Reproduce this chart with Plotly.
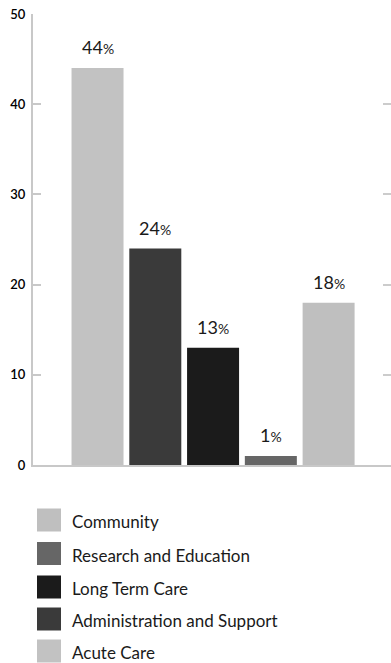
import plotly.graph_objects as go

categories = ["Acute Care", "Administration and Support", "Long Term Care",
              "Research and Education", "Community"]
values = [44, 24, 13, 1, 18]
colors = ["#c2c2c2", "#3a3a3a", "#1b1b1b", "#666666", "#bfbfbf"]
y_ticks = [0, 10, 20, 30, 40, 50]

W, H = 391, 663
ML, MR, MT, MB = 33, 0, 14, 198
PW, PH = W - ML - MR, H - MT - MB

def px_x(p):
    return (p - ML) / PW

def px_y(p):
    return (H - MB - p) / PH

FONT = "Lato, 'Open Sans', sans-serif"

fig = go.Figure()
for i, (c, v, col) in enumerate(zip(categories, values, colors)):
    fig.add_trace(go.Bar(x=[i], y=[v], name=c, marker=dict(color=col, line=dict(width=0)),
                         width=0.9, showlegend=False, hoverinfo="x+y"))
    fig.add_annotation(x=i, y=v, xref="x", yref="y", yanchor="bottom", yshift=8,
                       text=f"{v}<span style='font-size:14px'>%</span>", showarrow=False,
                       font=dict(size=18, color="#1a1a1a", family=FONT))

# invisible trace for right-side tick axis
fig.add_trace(go.Scatter(x=[0], y=[0], yaxis="y2", mode="markers",
                         marker=dict(opacity=0), showlegend=False, hoverinfo="skip"))

# legend drawn manually (reversed order)
legend_rows = [520, 553.5, 587, 619, 651]
for k, idx in enumerate(reversed(range(len(categories)))):
    cy = legend_rows[k]
    fig.add_shape(type="rect", xref="paper", yref="paper",
                  x0=px_x(37), x1=px_x(61), y0=px_y(cy - 11.5), y1=px_y(cy + 11.5),
                  fillcolor=colors[idx], line=dict(width=0))
    fig.add_annotation(xref="paper", yref="paper", x=px_x(70), y=px_y(cy + 1.5),
                       xanchor="left", yanchor="middle", showarrow=False,
                       text=categories[idx], font=dict(size=17, color="#1a1a1a", family=FONT))

fig.update_layout(
    width=W, height=H,
    margin=dict(l=ML, r=MR, t=MT, b=MB, pad=0),
    paper_bgcolor="white", plot_bgcolor="white",
    showlegend=False,
    font=dict(family=FONT),
    xaxis=dict(range=[-1.117, 5.08], showticklabels=False, ticks="", showgrid=False,
               zeroline=False, showline=True, linecolor="#c8c8c8", linewidth=1.5),
    yaxis=dict(range=[0, 50], tickvals=y_ticks, ticks="inside", ticklen=8, tickwidth=1.5,
               tickcolor="#c8c8c8", showline=True, linecolor="#c8c8c8", linewidth=2,
               showgrid=False, zeroline=False,
               tickfont=dict(size=13, color="#000", family=FONT, weight=600),
               ticklabelstandoff=3),
    yaxis2=dict(range=[0, 50], tickvals=y_ticks, overlaying="y", side="right",
                ticks="inside", ticklen=8, tickwidth=1.5, tickcolor="#cccccc",
                showticklabels=False, showline=False, showgrid=False, zeroline=False),
)

fig.write_html("out.html")
